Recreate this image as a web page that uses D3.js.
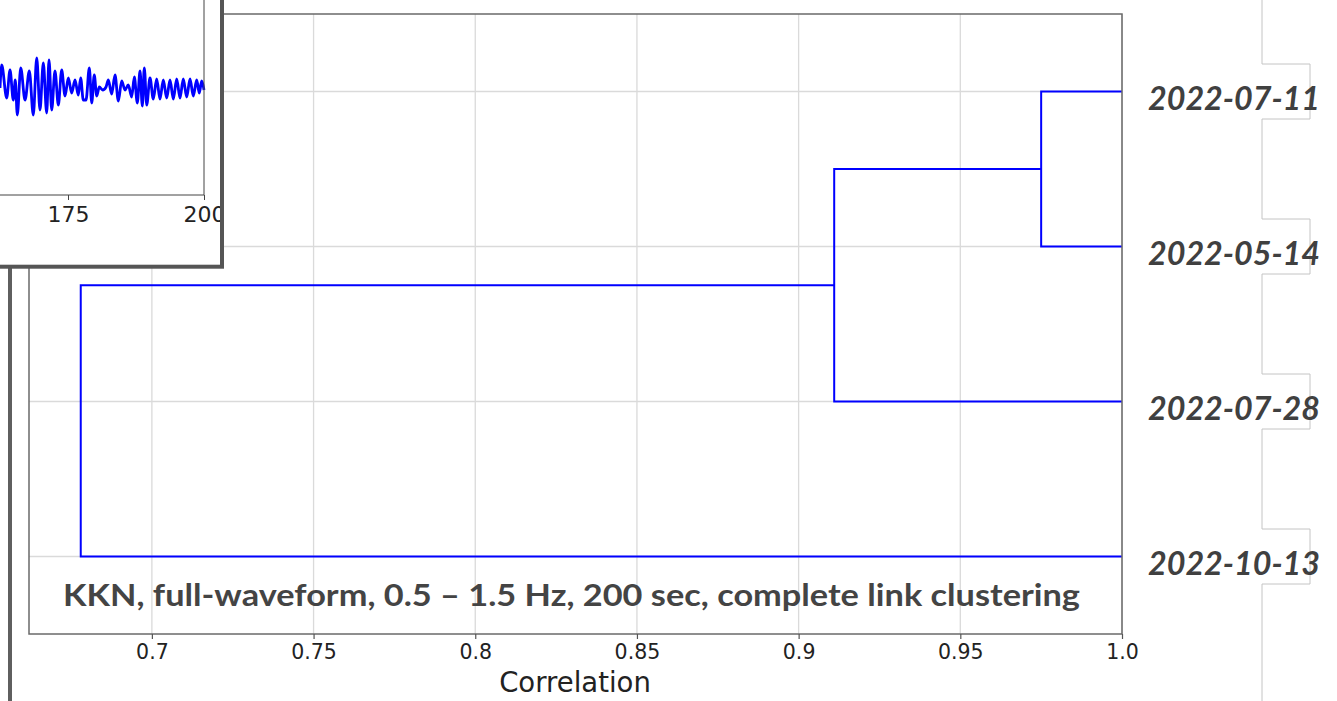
<!DOCTYPE html>
<html><head><meta charset="utf-8">
<script src="https://cdn.jsdelivr.net/npm/d3@7"></script>
<style>html,body{margin:0;padding:0;background:#fff;overflow:hidden}</style>
</head><body>
<svg id="chart" width="1337" height="701"></svg>
<script>
// ---- data ----
const leaves = ["2022-07-11", "2022-05-14", "2022-07-28", "2022-10-13"];
const mergeA = [0, 4, 5];          // scipy-style linkage: first child
const mergeB = [1, 2, 3];          // second child
const mergeCorr = [0.975, 0.911, 0.678];
const xTicks = [0.7, 0.75, 0.8, 0.85, 0.9, 0.95, 1.0];
const xTickLabels = ["0.7", "0.75", "0.8", "0.85", "0.9", "0.95", "1.0"];
const xTitle = "Correlation";
const annotation = "KKN, full-waveform, 0.5 \u2013 1.5 Hz, 200 sec, complete link clustering";
// inset waveform (extrema)
const waveT = [162.50,162.81,163.73,164.34,164.94,165.31,165.68,166.31,167.10,167.89,168.62,169.25,169.85,170.46,171.08,171.51,172.00,172.61,173.22,173.84,174.45,175.06,175.68,176.29,176.89,177.33,177.81,178.31,178.92,179.36,179.83,180.28,180.75,181.38,181.99,182.41,183.03,183.64,184.25,184.87,185.48,186.08,186.71,187.19,187.74,188.24,188.66,189.03,189.47,190.07,190.68,191.30,191.91,192.52,193.14,193.75,194.36,194.98,195.59,196.19,196.82,197.43,198.03,198.66,199.13,199.58,200.00];
const waveAmp = [0,23,-10,18,-12,8,-27,20,-12,17,-27,30,-22,25,-25,28,-22,17,-17,18,-8,10,-5,8,-7,10,-12,-12,20,-15,13,-8,1,-2,1,8,-6,13,-13,7,-2,3,-9,11,-15,17,-18,20,-17,10,-11,9,-11,8,-10,8,-11,9,-10,9,-9,9,-8,8,-5,7,-2];
const insetTicks = [175, 200];

// ---- layout ----
const svg = d3.select("#chart");
const x = d3.scaleLinear().domain([0.662, 1.0]).range([29, 1122]);
const y = d3.scaleLinear().domain([0, 40]).range([14, 634]);
const leafPos = i => 10 * i + 5;

// gridlines
const g = svg.append("g");
g.selectAll("line.vg").data(xTicks).join("line")
  .attr("x1", d => x(d)).attr("x2", d => x(d)).attr("y1", y(0)).attr("y2", y(40))
  .attr("stroke", "#dadada").attr("stroke-width", 1.3);
g.selectAll("line.hg").data(leaves).join("line")
  .attr("x1", x(0.662)).attr("x2", x(1.0)).attr("y1", (d, i) => y(leafPos(i))).attr("y2", (d, i) => y(leafPos(i)))
  .attr("stroke", "#dadada").attr("stroke-width", 1.3);

// dendrogram
const nodes = leaves.map((d, i) => ({ yv: leafPos(i), c: 1.0 }));
mergeA.forEach((a, k) => {
  const A = nodes[a], B = nodes[mergeB[k]];
  nodes.push({ yv: (A.yv + B.yv) / 2, c: mergeCorr[k], A, B });
});
const line = d3.line().x(d => x(d[0])).y(d => y(d[1]));
g.selectAll("path.link").data(nodes.filter(n => n.A)).join("path")
  .attr("d", n => line([[n.A.c, n.A.yv], [n.c, n.A.yv], [n.c, n.B.yv], [n.B.c, n.B.yv]]))
  .attr("fill", "none").attr("stroke", "#0000ff").attr("stroke-width", 2);

// frame
g.append("rect").attr("x", x(0.662)).attr("y", y(0)).attr("width", x(1.0) - x(0.662)).attr("height", y(40) - y(0))
  .attr("fill", "none").attr("stroke", "#6a6a6a").attr("stroke-width", 1.5);

// x axis
const ax = g.append("g").attr("transform", `translate(0,${y(40)})`)
  .call(d3.axisBottom(x).tickValues(xTicks).tickFormat((d, i) => xTickLabels[i]).tickSize(5).tickPadding(5));
ax.select(".domain").remove();
ax.selectAll(".tick line").attr("stroke", "#555").attr("stroke-width", 1.2);
ax.selectAll(".tick text").attr("font-family", "DejaVu Sans").attr("font-size", 20.5).attr("fill", "#222");
g.append("text").attr("x", 575).attr("y", 692).attr("text-anchor", "middle")
  .attr("font-family", "DejaVu Sans").attr("font-size", 27.5).attr("fill", "#222").text(xTitle);

// annotation
g.append("text").attr("x", 63).attr("y", 606)
  .attr("font-family", "Lato, 'Open Sans', sans-serif").attr("font-weight", "bold").attr("font-size", 31)
  .attr("fill", "#444").attr("textLength", 1017).attr("lengthAdjust", "spacingAndGlyphs").text(annotation);

// right bracket decoration
const br = [];
br.push([1262, 0]);
leaves.forEach((d, i) => {
  const yy = y(leafPos(i));
  br.push([1262, yy - 27.5], [1310, yy - 27.5], [1310, yy + 27.5], [1262, yy + 27.5]);
});
br.push([1262, 701]);
g.append("path").attr("d", d3.line()(br)).attr("fill", "none").attr("stroke", "#c4c4c4").attr("stroke-width", 1);

// leaf labels
g.selectAll("text.leaf").data(leaves).join("text")
  .attr("x", 1148).attr("y", (d, i) => y(leafPos(i)) + 18)
  .attr("font-family", "Lato, 'Open Sans', sans-serif").attr("font-weight", "bold").attr("font-style", "italic")
  .attr("font-size", 33).attr("fill", "#404040")
  .attr("textLength", 172).attr("lengthAdjust", "spacingAndGlyphs").text(d => d);

// left thick line (part of overlaid figure)
svg.append("line").attr("x1", 10).attr("x2", 10).attr("y1", 266).attr("y2", 701)
  .attr("stroke", "#5f5f5f").attr("stroke-width", 4);

// ---- inset ----
const ins = svg.append("g");
svg.append("defs").append("clipPath").attr("id", "insclip")
  .append("rect").attr("x", 0).attr("y", 0).attr("width", 220).attr("height", 265);
ins.append("rect").attr("x", -20).attr("y", -20).attr("width", 242).attr("height", 286.7).attr("fill", "#fff");
const inner = ins.append("g").attr("clip-path", "url(#insclip)");
const ix = d3.scaleLinear().domain([175, 200]).range([68, 204]);
const iy = d3.scaleLinear().domain([-40, 40]).range([128, 48]);
inner.append("path")
  .attr("d", d3.line().x((d, i) => ix(waveT[i])).y(d => iy(d)).curve(d3.curveMonotoneX)(waveAmp))
  .attr("fill", "none").attr("stroke", "#0000ff").attr("stroke-width", 2.8);
inner.append("line").attr("x1", 204).attr("x2", 204).attr("y1", 0).attr("y2", 195).attr("stroke", "#444").attr("stroke-width", 1);
inner.append("line").attr("x1", 0).attr("x2", 204).attr("y1", 195).attr("y2", 195).attr("stroke", "#444").attr("stroke-width", 1);
const iax = inner.append("g").attr("transform", "translate(0,195)")
  .call(d3.axisBottom(ix).tickValues(insetTicks).tickFormat(d3.format("d")).tickSize(5).tickPadding(6));
iax.select(".domain").remove();
iax.selectAll(".tick line").attr("stroke", "#444");
iax.selectAll(".tick text").attr("font-family", "DejaVu Sans").attr("font-size", 22).attr("fill", "#222");
ins.append("rect").attr("x", -20).attr("y", -20).attr("width", 242).attr("height", 286.7)
  .attr("fill", "none").attr("stroke", "#555").attr("stroke-width", 4);
</script>
</body></html>
